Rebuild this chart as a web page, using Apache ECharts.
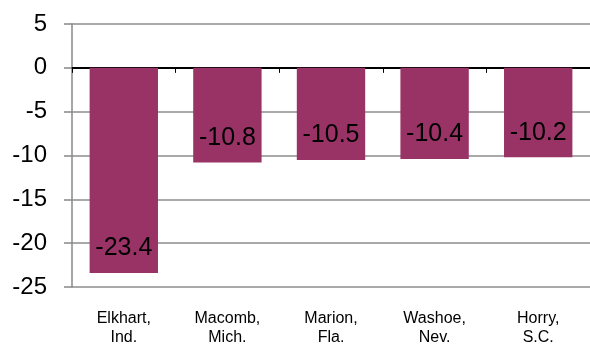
<!DOCTYPE html>
<html>
<head>
<meta charset="utf-8">
<script src="https://cdn.jsdelivr.net/npm/echarts@6/dist/echarts.min.js"></script>
<style>
  html, body { margin: 0; padding: 0; background: #fff; }
  #chart { width: 590px; height: 347px; }
</style>
</head>
<body>
<div id="chart"></div>
<script>
const counties = ["Elkhart,\nInd.", "Macomb,\nMich.", "Marion,\nFla.", "Washoe,\nNev.", "Horry,\nS.C."];
const changes = [-23.4, -10.8, -10.5, -10.4, -10.2];
const yTicks = [5, 0, -5, -10, -15, -20, -25];

const chart = echarts.init(document.getElementById("chart"));
const font = "Liberation Sans, Arial, sans-serif";

chart.setOption({
  animation: false,
  grid: { left: 72, right: -3, top: 24, bottom: 55 },
  xAxis: [
    {
      // labels along the bottom
      type: "category",
      data: counties,
      position: "bottom",
      axisLine: { show: false, onZero: false },
      axisTick: { show: false },
      axisLabel: {
        color: "#000", fontFamily: font, fontSize: 16, lineHeight: 19, margin: 22
      }
    },
    {
      // black zero line with ticks pointing down
      type: "category",
      data: counties,
      position: "top",
      axisLine: { show: true, onZero: true, lineStyle: { color: "#000", width: 2 } },
      axisTick: { show: true, inside: true, length: 5, lineStyle: { color: "#000", width: 1 } },
      axisLabel: { show: false }
    }
  ],
  yAxis: {
    type: "value",
    min: yTicks[yTicks.length - 1],
    max: yTicks[0],
    interval: 5,
    axisLine: { show: true, lineStyle: { color: "#888", width: 1.5 } },
    axisTick: { show: true, length: 8, lineStyle: { color: "#888", width: 1.5 } },
    axisLabel: { color: "#000", fontFamily: font, fontSize: 24, margin: 25 },
    splitLine: { show: true, lineStyle: { color: "#8c8c8c", width: 1.5 } }
  },
  series: [{
    type: "bar",
    data: changes,
    barWidth: "66%",
    itemStyle: { color: "#993366" },
    label: {
      show: true,
      position: "insideBottom",
      distance: 12,
      color: "#000",
      fontFamily: font,
      fontSize: 25
    }
  }]
});
</script>
</body>
</html>
